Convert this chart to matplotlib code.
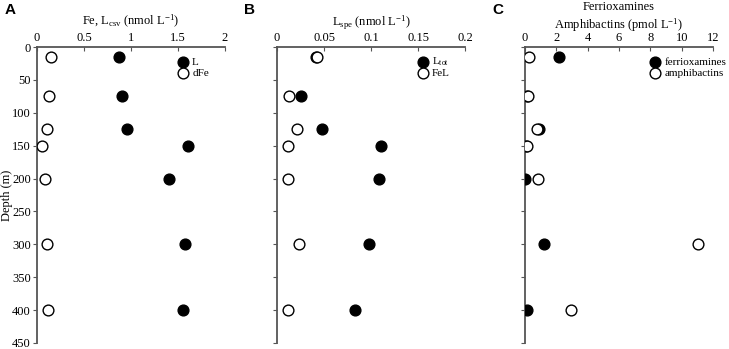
import matplotlib
matplotlib.use("Agg")
import matplotlib.pyplot as plt

depth = [15, 75, 125, 150, 200, 300, 400]

# panel A
L_a = [0.87, 0.90, 0.96, 1.61, 1.40, 1.57, 1.55]
dfe = [0.15, 0.13, 0.11, 0.05, 0.09, 0.11, 0.12]
# panel B
ltot = [0.041, 0.025, 0.048, 0.111, 0.108, 0.098, 0.083]
fel = [0.043, 0.013, 0.021, 0.012, 0.012, 0.023, 0.012]
# panel C
ferriox = [2.18, 0.10, 0.90, 0.05, 0.0, 1.22, 0.13]
amphib = [0.26, 0.20, 0.79, 0.10, 0.81, 11.07, 2.95]

xlim_a, xticks_a = (0, 2), [0, 0.5, 1, 1.5, 2]
xlim_b, xticks_b = (0, 0.2), [0, 0.05, 0.1, 0.15, 0.2]
xlim_c, xticks_c = (0, 12), [0, 2, 4, 6, 8, 10, 12]
yticks = list(range(0, 451, 50))

serif = "Liberation Serif"
plt.rcParams["font.family"] = serif
plt.rcParams["mathtext.fontset"] = "custom"
plt.rcParams["mathtext.rm"] = serif
plt.rcParams["mathtext.it"] = serif + ":italic"

fig = plt.figure(figsize=(7.29, 3.49), dpi=100)
panels = [
    (0.0508, xlim_a, xticks_a, ["0", "0.5", "1", "1.5", "2"], L_a, dfe,
     r"Fe, L$_{\mathrm{csv}}$ (nmol L$^{\mathrm{-1}}$)", 5, ("L", "dFe"), "A", 1.55),
    (0.380, xlim_b, xticks_b, ["0", "0.05", "0.1", "0.15", "0.2"], ltot, fel,
     r"L$_{\mathrm{spe}}$ (nmol L$^{\mathrm{-1}}$)", 5, (r"L$_{\mathrm{tot}}$", "FeL"), "B", 0.155),
    (0.7202, xlim_c, xticks_c, [str(t) for t in xticks_c], ferriox, amphib,
     "Ferrioxamines\n" + r"Amphibactins (pmol L$^{\mathrm{-1}}$)", 3,
     ("ferrioxamines", "amphibactins"), "C", 8.3),
]

for i, (left, xlim, xt, xtl, filled, hollow, xlabel, lpad, labels, letter, legx) in enumerate(panels):
    ax = fig.add_axes([left, 0.0172, 0.2579, 0.848])
    ax.set_xlim(*xlim)
    ax.set_ylim(450, 0)
    ax.scatter(filled, depth, s=60, c="black", edgecolors="black", zorder=3, label=labels[0])
    ax.scatter(hollow, depth, s=60, facecolors="white", edgecolors="black",
               linewidths=1.0, zorder=3, label=labels[1])
    ax.xaxis.tick_top()
    ax.xaxis.set_label_position("top")
    ax.set_xticks(xt)
    ax.set_xticklabels(xtl)
    ax.set_yticks(yticks)
    if i == 0:
        ax.set_yticklabels([str(t) for t in yticks])
    else:
        ax.set_yticklabels([])
    for s in ["right", "bottom"]:
        ax.spines[s].set_visible(False)
    for s in ["top", "left"]:
        ax.spines[s].set_color("#555555")
        ax.spines[s].set_linewidth(1.3)
    ax.tick_params(axis="x", direction="in", length=3, pad=2, labelsize=9, color="#555555")
    ax.tick_params(axis="y", direction="out", length=3, pad=1.5, labelsize=9, color="#555555")
    ax.set_xlabel(xlabel, fontsize=9, labelpad=lpad, linespacing=1.25)
    # legend drawn as data-anchored markers
    ax.scatter([legx], [23], s=60, c="black", zorder=3, clip_on=False)
    ax.scatter([legx], [40], s=60, facecolors="white", edgecolors="black", linewidths=1.0,
               zorder=3, clip_on=False)
    dx = (xlim[1] - xlim[0]) * 0.05
    ax.text(legx + dx, 23, labels[0], fontsize=8, va="center", ha="left")
    ax.text(legx + dx, 40, labels[1], fontsize=8, va="center", ha="left")
    fig.text(left - 0.045, 0.99, letter, fontsize=11, fontweight="bold",
             family="Liberation Sans", va="top", ha="left")

fig.text(0.0096, 0.441, "Depth (m)", rotation=90, fontsize=9, va="center", ha="center")

fig.savefig("out.png", dpi=100)
